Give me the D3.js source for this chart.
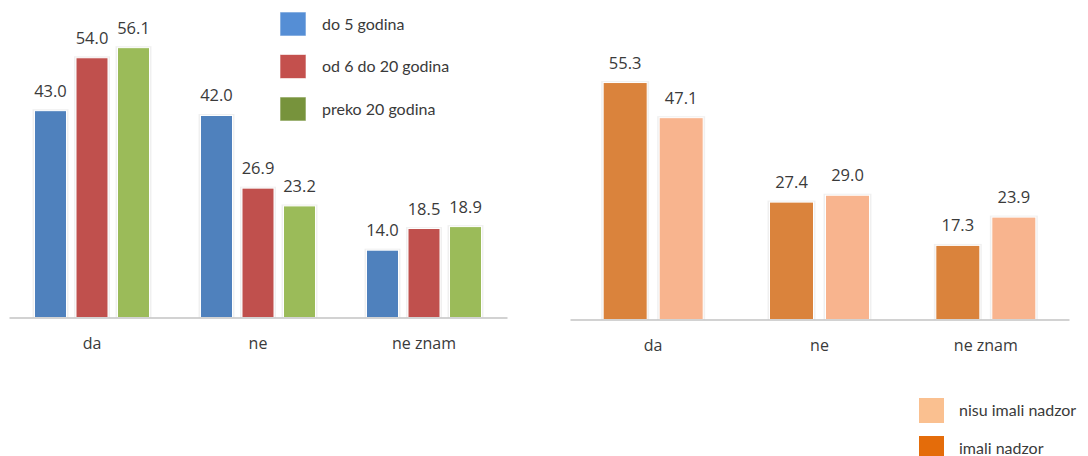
<!DOCTYPE html>
<html><head><meta charset="utf-8">
<script src="https://cdn.jsdelivr.net/npm/d3@7"></script>
<style>body{margin:0;background:#fff}svg{display:block}</style>
</head><body>
<svg id="chart" width="1088" height="456"></svg>
<script>
const categories = ["da", "ne", "ne znam"];
// left chart
const leftSeries = ["do 5 godina", "od 6 do 20 godina", "preko 20 godina"];
const do5 = [43.0, 42.0, 14.0];
const od6do20 = [54.0, 26.9, 18.5];
const preko20 = [56.1, 23.2, 18.9];
const leftValues = [do5, od6do20, preko20];
const leftColors = ["#4F81BD", "#C0504D", "#9BBB59"];
const leftLegendColors = ["#558ED5", "#C4504D", "#77933C"];
// right chart
const rightSeries = ["imali nadzor", "nisu imali nadzor"];
const imali = [55.3, 27.4, 17.3];
const nisuImali = [47.1, 29.0, 23.9];
const rightValues = [imali, nisuImali];
const rightColors = ["#DA833C", "#F8B48E"];
const rightLegendColors = ["#E46C0A", "#FAC090"];
const legendOrderRight = ["nisu imali nadzor", "imali nadzor"];

const svg = d3.select("#chart");
const textColor = "#3A3A3A";
const valueFont = "'Open Sans', sans-serif";
const legendFont = "Lato, sans-serif";

function drawChart(cfg) {
  const g = svg.append("g");
  const x0 = d3.scaleBand().domain(categories).range([cfg.x0, cfg.x1]);
  const x1 = d3.scaleBand().domain(cfg.series).range([0, x0.bandwidth()])
    .paddingInner(cfg.pi).paddingOuter(cfg.po);
  const y = d3.scaleLinear().domain([0, 60]).range([cfg.base, cfg.top]);

  const rows = [];
  cfg.series.forEach((s, si) => {
    categories.forEach((c, ci) => rows.push({s, si, c, v: cfg.values[si][ci]}));
  });

  g.selectAll("rect.glow").data(rows).join("rect")
    .attr("x", d => x0(d.c) + x1(d.s) - 2)
    .attr("y", d => y(d.v) - 1.5)
    .attr("width", x1.bandwidth() + 4)
    .attr("height", d => cfg.base - y(d.v) + 1.5)
    .attr("fill", "#000").attr("opacity", 0.06);
  g.selectAll("rect.bar").data(rows).join("rect")
    .attr("x", d => x0(d.c) + x1(d.s))
    .attr("y", d => y(d.v))
    .attr("width", x1.bandwidth())
    .attr("height", d => cfg.base - y(d.v))
    .attr("fill", d => cfg.colors[d.si])
    .attr("stroke", "#fff").attr("stroke-width", 1);

  g.selectAll("text.val").data(rows).join("text")
    .attr("x", d => x0(d.c) + x1(d.s) + x1.bandwidth() / 2)
    .attr("y", d => y(d.v) - 14)
    .attr("text-anchor", "middle")
    .attr("font-family", valueFont).attr("font-size", 16.5)
    .attr("fill", textColor)
    .text(d => d.v.toFixed(1));

  const axis = d3.axisBottom(x0).tickSize(0).tickPadding(cfg.tickPad);
  const ax = g.append("g").attr("transform", `translate(0,${cfg.base})`).call(axis);
  ax.select(".domain").attr("stroke", "#A6A6A6").attr("stroke-width", 1.2);
  ax.selectAll("text").attr("font-family", valueFont).attr("font-size", 16)
    .attr("fill", textColor);
  return {x0, x1, y};
}

drawChart({x0: 9, x1: 507, base: 317.5, top: 28.9, series: leftSeries,
  values: leftValues, colors: leftColors, pi: 0.229, po: 0.614, tickPad: 20});
drawChart({x0: 570, x1: 1069, base: 319.5, top: 62.4, series: rightSeries,
  values: rightValues, colors: rightColors, pi: 0.214, po: 0.592, tickPad: 20});

// left legend
const ll = svg.append("g");
const lly = d3.scalePoint().domain(leftSeries).range([24, 109]);
ll.selectAll("rect").data(leftSeries).join("rect")
  .attr("x", 280).attr("y", d => lly(d) - 12).attr("width", 26).attr("height", 24)
  .attr("fill", (d, i) => leftLegendColors[i])
  .attr("stroke", "#fff").attr("stroke-opacity", 0.6).attr("stroke-width", 1);
ll.selectAll("text").data(leftSeries).join("text")
  .attr("x", 322).attr("y", d => lly(d)).attr("dy", "0.35em")
  .attr("font-family", legendFont).attr("font-size", 16).attr("fill", textColor)
  .text(d => d);

// right legend
const rl = svg.append("g");
const rly = d3.scalePoint().domain(legendOrderRight).range([410, 448]);
rl.selectAll("rect").data(legendOrderRight).join("rect")
  .attr("x", 919).attr("y", d => rly(d) - 12).attr("width", 25).attr("height", 25)
  .attr("fill", d => rightLegendColors[rightSeries.indexOf(d)]);
rl.selectAll("text").data(legendOrderRight).join("text")
  .attr("x", 959).attr("y", d => rly(d)).attr("dy", "0.35em")
  .attr("font-family", legendFont).attr("font-size", 16).attr("fill", textColor)
  .text(d => d);
</script>
</body></html>
